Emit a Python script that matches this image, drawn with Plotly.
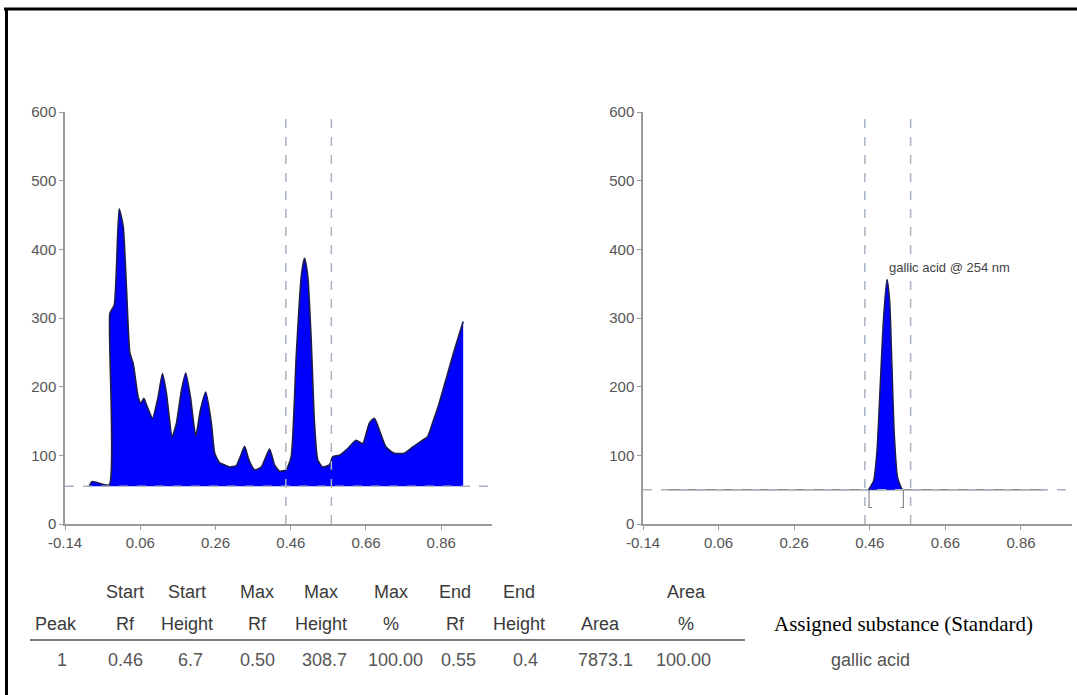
import plotly.graph_objects as go

# ---------------- data ----------------
# sample track (left) : Rf vs height
left_rf = [-0.0755, -0.0675, -0.0225, -0.0206, -0.009, 0.004, 0.0147,
           0.0236, 0.0324, 0.0412, 0.0545, 0.0616, 0.0696, 0.0784, 0.0926,
           0.1075, 0.1191, 0.1297, 0.1447, 0.1563, 0.1696, 0.181, 0.1934,
           0.2075, 0.22, 0.234, 0.2491, 0.2579, 0.2711, 0.2844, 0.2977,
           0.3154, 0.326, 0.3375, 0.3489, 0.364, 0.3818, 0.4038, 0.4171,
           0.4303, 0.448, 0.4613, 0.4746, 0.4879, 0.4966, 0.5054, 0.5144,
           0.5231, 0.5319, 0.5452, 0.5629, 0.5717, 0.5894, 0.6115, 0.6337,
           0.6513, 0.669, 0.6823, 0.6955, 0.7133, 0.7353, 0.7618, 0.7839,
           0.8104, 0.8237, 0.8369, 0.8547, 0.8725, 0.89, 0.9032, 0.9184]
left_h = [56, 62, 57, 307, 319, 459, 433,
          341, 249, 234, 185, 176, 183, 171, 154,
          185, 219, 190, 127, 147, 195, 220, 185,
          128, 166, 192, 147, 103, 89, 86, 83,
          85, 98, 113, 93, 79, 83, 109, 86,
          77, 79, 98, 244, 360, 387, 360, 268,
          147, 93, 83, 86, 98, 100, 110, 122,
          117, 147, 154, 137, 112, 103, 103, 112,
          122, 127, 147, 176, 210, 244, 268, 295]
left_baseline = 55

# standard track (right)
right_rf = [0.4568, 0.470, 0.479, 0.4878, 0.4966, 0.5056, 0.5125, 0.5188,
            0.5249, 0.5336, 0.5453, 0.5495]
right_h = [50, 63, 107, 205, 302, 356, 326, 229, 131, 68, 51, 50]
right_baseline = 50
right_solid_rf = [-0.076, 0.925]
bracket_rf = [0.458, 0.549]
bracket_low = 24

# integration window (dashed verticals)
window_rf = [0.447, 0.568]

x_ticks = [-0.14, 0.06, 0.26, 0.46, 0.66, 0.86]
x_tick_labels = ["-0.14", "0.06", "0.26", "0.46", "0.66", "0.86"]
y_ticks = [0, 100, 200, 300, 400, 500, 600]

peak_label = "gallic acid @ 254 nm"

# peak table
table_header1 = ["", "Start", "Start", "Max", "Max", "Max", "End", "End", "", "Area"]
table_header2 = ["Peak", "Rf", "Height", "Rf", "Height", "%", "Rf", "Height", "Area", "%"]
table_row = ["1", "0.46", "6.7", "0.50", "308.7", "100.00", "0.55", "0.4", "7873.1", "100.00"]
assigned_title = "Assigned substance (Standard)"
assigned_value = "gallic acid"

# ---------------- layout helpers ----------------
W, H = 1077, 695
NARROW = "Liberation Sans Narrow, Arial Narrow, Liberation Sans, Arial, sans-serif"
DARK = "#1c1c4e"
BLUE = "#0000ff"
GRID = "#a9b3c2"


def px(xp):
    return xp / W


def py(yp):
    return 1 - yp / H


fig = go.Figure()

# left: invisible baseline, then curve filled down to it
fig.add_trace(go.Scatter(
    x=[left_rf[0], left_rf[-1]], y=[left_baseline, left_baseline], mode="lines",
    line=dict(width=0, color=BLUE), xaxis="x", yaxis="y", hoverinfo="skip",
    showlegend=False))
fig.add_trace(go.Scatter(
    x=left_rf, y=left_h, mode="lines", fill="tonexty", fillcolor=BLUE,
    line=dict(color=DARK, width=1.6, shape="spline", smoothing=0.5),
    xaxis="x", yaxis="y", showlegend=False))

# right: solid baseline, invisible fill base, peak
fig.add_trace(go.Scatter(
    x=right_solid_rf, y=[right_baseline] * len(right_solid_rf), mode="lines",
    line=dict(color="#8a8a8a", width=1.5), xaxis="x2", yaxis="y2", showlegend=False))
fig.add_trace(go.Scatter(
    x=[right_rf[0], right_rf[-1]], y=[right_baseline, right_baseline], mode="lines",
    line=dict(width=0, color=BLUE), xaxis="x2", yaxis="y2", hoverinfo="skip",
    showlegend=False))
fig.add_trace(go.Scatter(
    x=right_rf, y=right_h, mode="lines", fill="tonexty", fillcolor=BLUE,
    line=dict(color=DARK, width=1.4, shape="spline", smoothing=0.6),
    xaxis="x2", yaxis="y2", showlegend=False))
# bracket under standard peak
for i, b in enumerate(bracket_rf):
    d = 0.008 if i == 0 else -0.008
    fig.add_trace(go.Scatter(
        x=[b, b, b + d], y=[right_baseline, bracket_low, bracket_low], mode="lines",
        line=dict(color="#8a8a8a", width=1.2), xaxis="x2", yaxis="y2", showlegend=False))

shapes = []
for xr, yr, base in (("x", "y", left_baseline), ("x2", "y2", right_baseline)):
    shapes.append(dict(type="line", xref=f"{xr} domain", yref=yr, x0=0, x1=1,
                       y0=base, y1=base, line=dict(color=GRID, width=1.5, dash="dash")))
    for w in window_rf:
        shapes.append(dict(type="line", xref=xr, yref=yr, x0=w, x1=w, y0=0, y1=597,
                           line=dict(color=GRID, width=1.5, dash="dash")))

# frame (top + left)
shapes.append(dict(type="line", xref="paper", yref="paper", x0=px(4), x1=1,
                   y0=py(9), y1=py(9), line=dict(color="black", width=3)))
shapes.append(dict(type="line", xref="paper", yref="paper", x0=px(6.5), x1=px(6.5),
                   y0=0, y1=py(8), line=dict(color="black", width=3)))
# table rule
shapes.append(dict(type="line", xref="paper", yref="paper", x0=px(30), x1=px(745),
                   y0=py(640), y1=py(640), line=dict(color="#7a7a7a", width=2)))

annotations = []
annotations.append(dict(xref="x2", yref="y2", x=right_rf[5], y=373, text=peak_label,
                        showarrow=False, xanchor="left", yanchor="middle",
                        font=dict(family=NARROW, size=13, color="#444444")))


def label(xp, yp, text, size=18, color="#3a3a3a", family=NARROW):
    annotations.append(dict(xref="paper", yref="paper", x=px(xp), y=py(yp),
                            text=text, showarrow=False, xanchor="center",
                            yanchor="middle",
                            font=dict(family=family, size=size, color=color)))


header_x = [56, 125, 187, 257, 321, 391, 455, 519, 600, 686]
row_x = [62, 125, 190, 257, 324, 395, 458, 525, 605, 683]
for i in range(len(table_header2)):
    if table_header1[i]:
        label(header_x[i], 592, table_header1[i])
    label(header_x[i], 624, table_header2[i])
    label(row_x[i], 660, table_row[i], color="#555555")

label(903, 624, assigned_title, size=21, color="#000000",
      family="Liberation Serif, Times New Roman, serif")
label(870, 660, assigned_value, color="#555555")

axis_common = dict(showgrid=False, zeroline=False, showline=True, linecolor="#9a9a9a",
                   linewidth=1.5, ticks="outside", ticklen=4, tickcolor="#9a9a9a",
                   automargin=False,
                   tickfont=dict(family=NARROW, size=15, color="#555555"))
x_common = dict(axis_common, range=[-0.14, 0.995], tickvals=x_ticks,
                ticktext=x_tick_labels)
y_common = dict(axis_common, range=[0, 600], tickvals=y_ticks,
                domain=[py(524), py(112)])

fig.update_layout(
    template="none",
    width=W, height=H, margin=dict(l=0, r=0, t=0, b=0, autoexpand=False),
    paper_bgcolor="white", plot_bgcolor="white",
    xaxis=dict(x_common, domain=[px(65), px(492)], anchor="y"),
    yaxis=dict(y_common, anchor="x"),
    xaxis2=dict(x_common, domain=[px(643), px(1072)], anchor="y2"),
    yaxis2=dict(y_common, anchor="x2"),
    shapes=shapes, annotations=annotations, showlegend=False)

fig.write_html("out.html",
               config={"displayModeBar": False},
               post_script="document.body.style.margin='0';"
                           "document.body.style.overflow='hidden';")
